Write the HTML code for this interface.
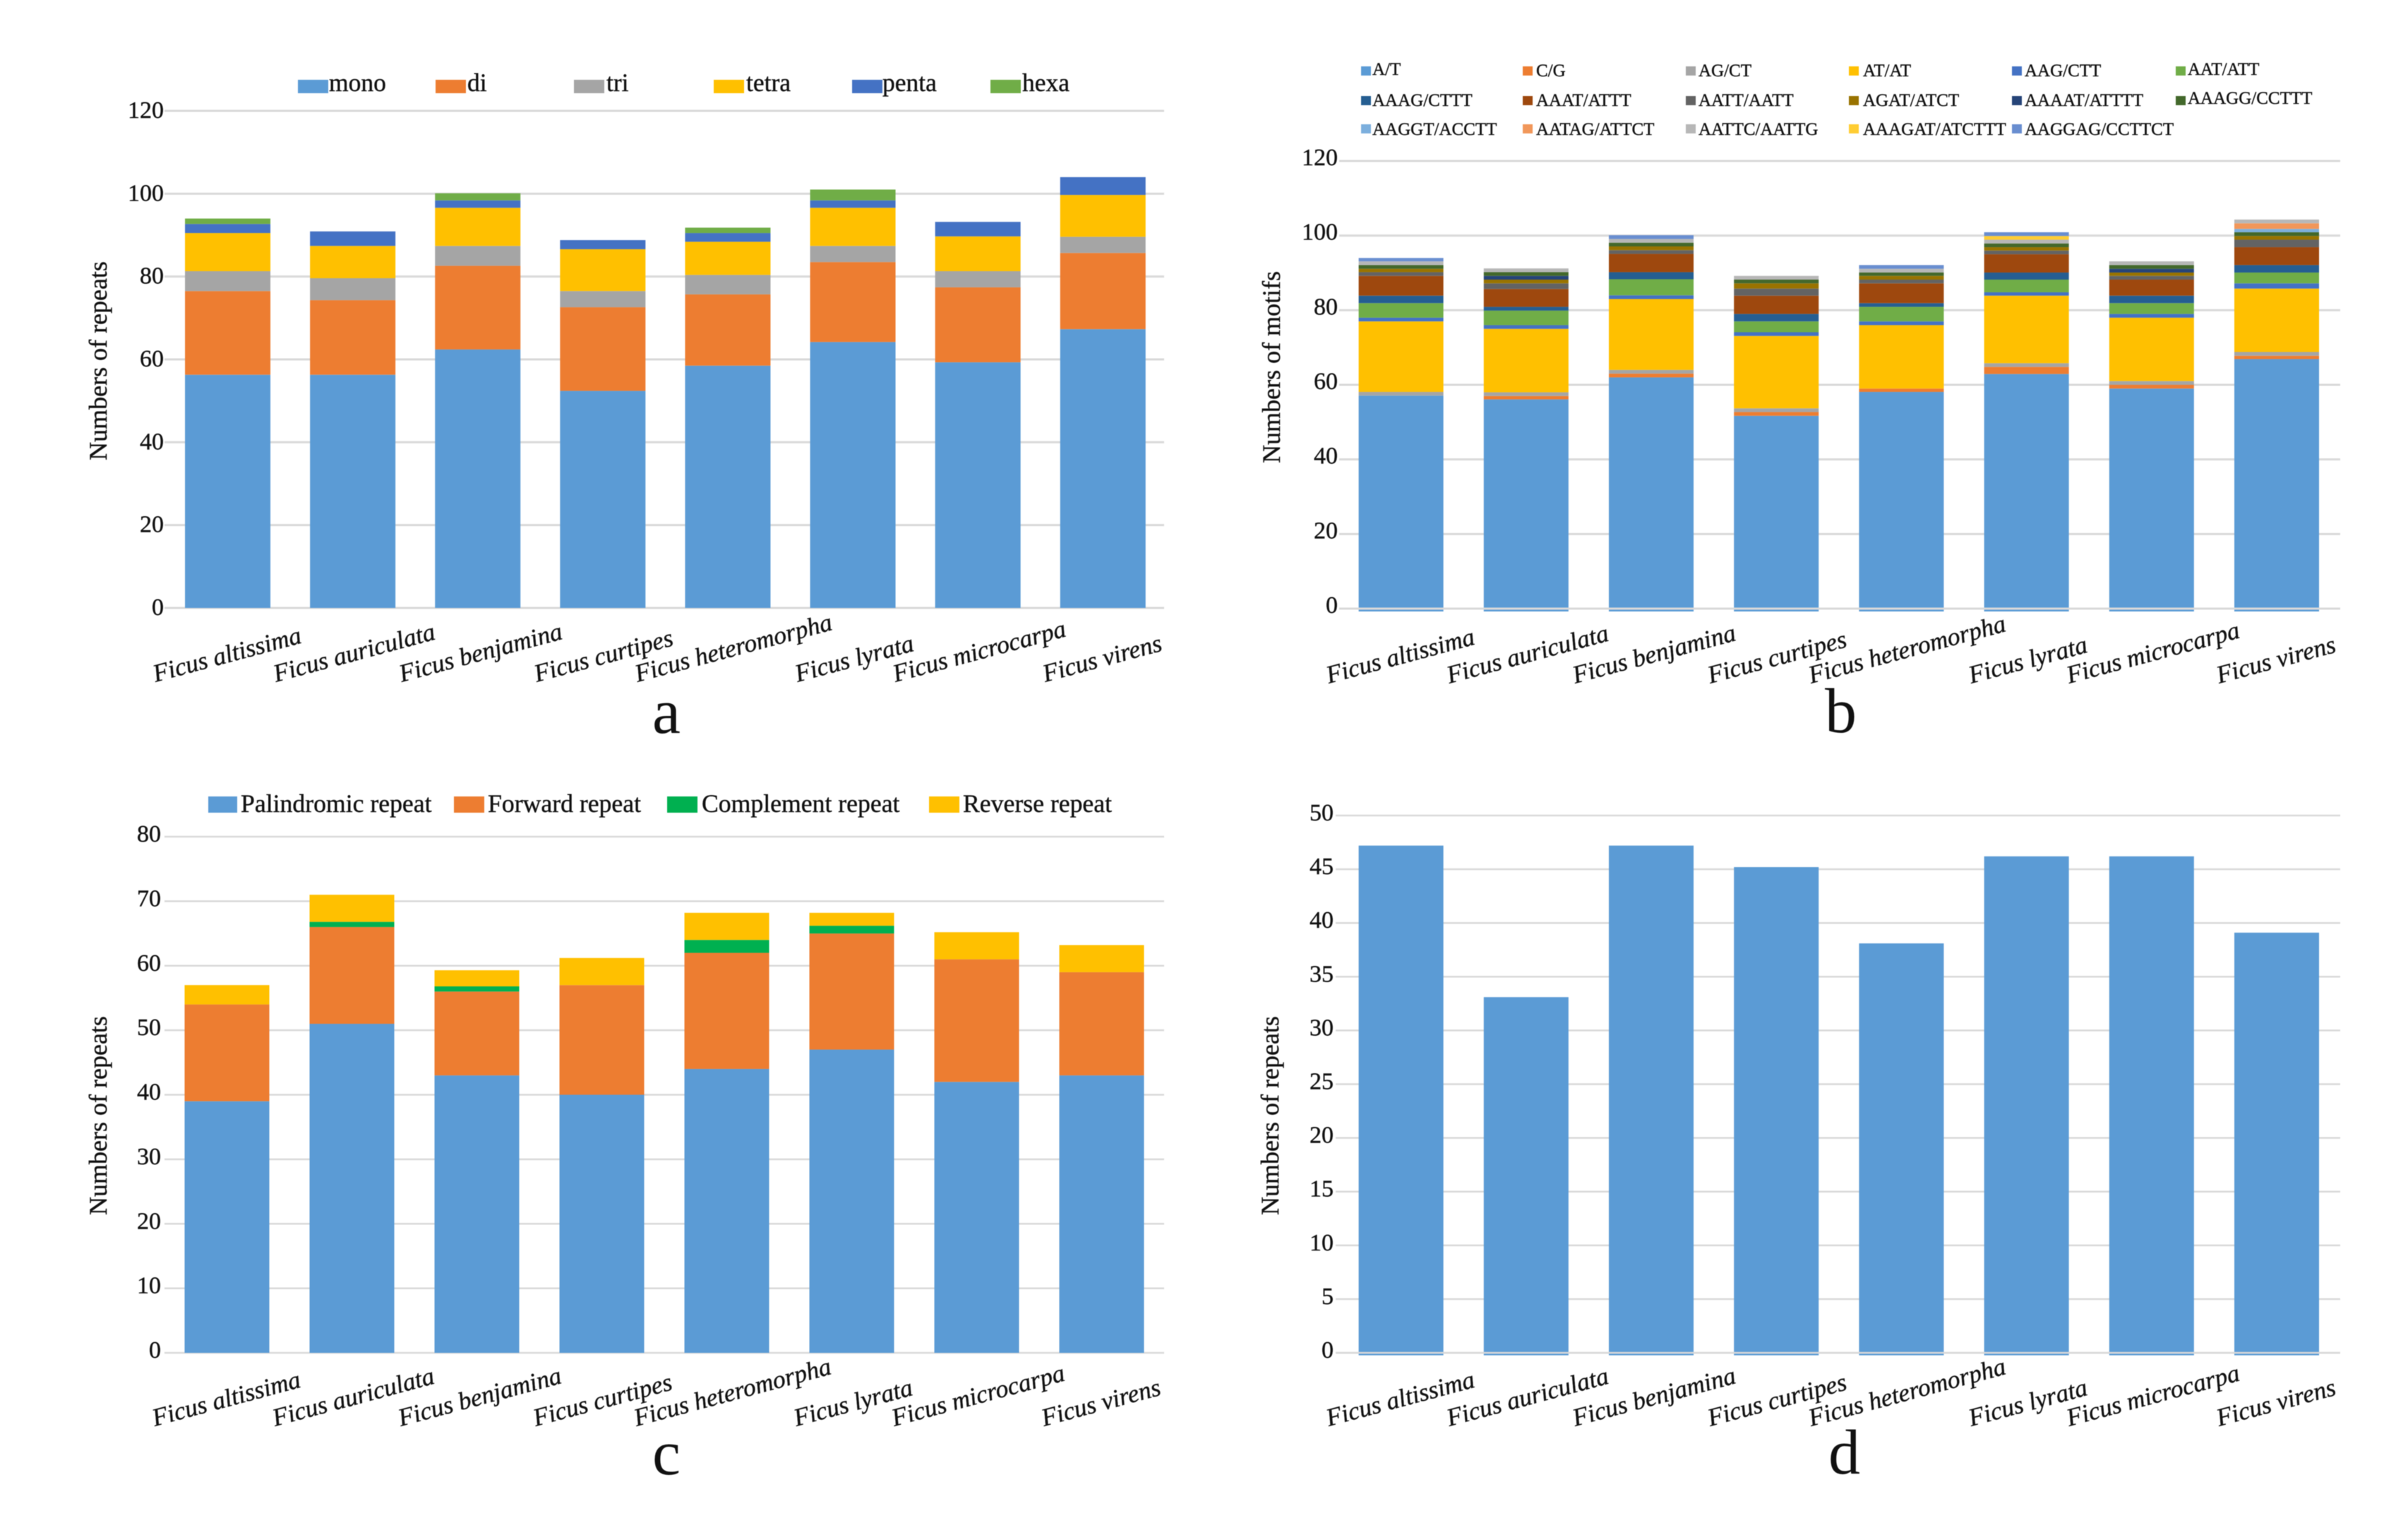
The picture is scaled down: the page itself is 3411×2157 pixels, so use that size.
<!DOCTYPE html>
<html lang="en">
<head>
<meta charset="utf-8">
<title>Ficus repeat statistics</title>
<style>
html,body{margin:0;padding:0;background:#fff;}
svg{display:block;font-family:"Liberation Serif","Times New Roman",serif;filter:blur(0.6px);}
text{fill:#111;stroke:#111;stroke-width:0.4px;}
.lg-a{font-size:35.5px;}
.lg-b{font-size:25px;}
.lg-c{font-size:35.7px;}
.ytitle{font-size:36px;}
.tick{font-size:34px;}
.cat{font-size:35.5px;font-style:italic;}
.panel{font-size:90px;stroke-width:0;}
</style>
</head>
<body>
<svg id="figure" xmlns="http://www.w3.org/2000/svg" width="3411" height="2157" viewBox="0 0 3411 2157">
<rect x="0" y="0" width="3411" height="2157" fill="#fff"/>

<g id="panel-a"></g>
<g id="panel-b"></g>
<g id="panel-c"></g>
<g id="panel-d"></g>

<g>
<g><rect x="422" y="113" width="43" height="19" fill="#5B9BD5"/><text class="lg-a" x="466" y="129">mono</text></g>
<g><rect x="617" y="113" width="43" height="19" fill="#ED7D31"/><text class="lg-a" x="662" y="129">di</text></g>
<g><rect x="813" y="113" width="43" height="19" fill="#A5A5A5"/><text class="lg-a" x="859" y="129">tri</text></g>
<g><rect x="1011" y="113" width="43" height="19" fill="#FFC000"/><text class="lg-a" x="1057" y="129">tetra</text></g>
<g><rect x="1207" y="113" width="43" height="19" fill="#4472C4"/><text class="lg-a" x="1250" y="129">penta</text></g>
<g><rect x="1403" y="113" width="43" height="19" fill="#70AD47"/><text class="lg-a" x="1448" y="129">hexa</text></g>
</g>

<g>
<g><rect x="1928" y="94" width="14" height="13" fill="#5B9BD5"/><text class="lg-b" x="1944" y="106">A/T</text></g>
<g><rect x="2157" y="94" width="14" height="13" fill="#ED7D31"/><text class="lg-b" x="2176" y="108">C/G</text></g>
<g><rect x="2388" y="94" width="14" height="13" fill="#A5A5A5"/><text class="lg-b" x="2406" y="108">AG/CT</text></g>
<g><rect x="2619" y="94" width="14" height="13" fill="#FFC000"/><text class="lg-b" x="2639" y="108">AT/AT</text></g>
<g><rect x="2850" y="94" width="14" height="13" fill="#4472C4"/><text class="lg-b" x="2868" y="108">AAG/CTT</text></g>
<g><rect x="3082" y="94" width="14" height="13" fill="#70AD47"/><text class="lg-b" x="3099" y="106">AAT/ATT</text></g>

<g><rect x="1928" y="136" width="14" height="13" fill="#255E91"/><text class="lg-b" x="1944" y="150">AAAG/CTTT</text></g>
<g><rect x="2157" y="136" width="14" height="13" fill="#9E480E"/><text class="lg-b" x="2176" y="150">AAAT/ATTT</text></g>
<g><rect x="2388" y="136" width="14" height="13" fill="#636363"/><text class="lg-b" x="2406" y="150">AATT/AATT</text></g>
<g><rect x="2619" y="136" width="14" height="13" fill="#997300"/><text class="lg-b" x="2639" y="150">AGAT/ATCT</text></g>
<g><rect x="2850" y="136" width="14" height="13" fill="#264478"/><text class="lg-b" x="2868" y="150">AAAAT/ATTTT</text></g>
<g><rect x="3082" y="136" width="14" height="13" fill="#43682B"/><text class="lg-b" x="3099" y="147">AAAGG/CCTTT</text></g>

<g><rect x="1928" y="176" width="14" height="13" fill="#7CAFDD"/><text class="lg-b" x="1944" y="191">AAGGT/ACCTT</text></g>
<g><rect x="2157" y="176" width="14" height="13" fill="#F1975A"/><text class="lg-b" x="2176" y="191">AATAG/ATTCT</text></g>
<g><rect x="2388" y="176" width="14" height="13" fill="#B7B7B7"/><text class="lg-b" x="2406" y="191">AATTC/AATTG</text></g>
<g><rect x="2619" y="176" width="14" height="13" fill="#FFCD33"/><text class="lg-b" x="2639" y="191">AAAGAT/ATCTTT</text></g>
<g><rect x="2850" y="176" width="14" height="13" fill="#698ED0"/><text class="lg-b" x="2868" y="191">AAGGAG/CCTTCT</text></g>
</g>

<g>
<g><rect x="295" y="1128" width="41" height="23" fill="#5B9BD5"/><text class="lg-c" x="341" y="1150">Palindromic repeat</text></g>
<g><rect x="643" y="1128" width="43" height="23" fill="#ED7D31"/><text class="lg-c" x="691" y="1150">Forward repeat</text></g>
<g><rect x="945" y="1128" width="43" height="23" fill="#00B050"/><text class="lg-c" x="994" y="1150">Complement repeat</text></g>
<g><rect x="1316" y="1128" width="43" height="23" fill="#FFC000"/><text class="lg-c" x="1364" y="1150">Reverse repeat</text></g>
</g>

<text class="ytitle" transform="translate(151,511) rotate(-90)" text-anchor="middle">Numbers of repeats</text>
<text class="ytitle" transform="translate(1813,520) rotate(-90)" text-anchor="middle">Numbers of motifs</text>
<text class="ytitle" transform="translate(151,1580) rotate(-90)" text-anchor="middle">Numbers of repeats</text>
<text class="ytitle" transform="translate(1811,1580) rotate(-90)" text-anchor="middle">Numbers of repeats</text>

<text class="panel" x="924" y="1038">a</text>
<text class="panel" x="2585" y="1037">b</text>
<text class="panel" x="924" y="2088">c</text>
<text class="panel" x="2590" y="2087">d</text>
</svg>

<script>
/* ---------- shared categories ---------- */
const categories = ['Ficus altissima','Ficus auriculata','Ficus benjamina','Ficus curtipes','Ficus heteromorpha','Ficus lyrata','Ficus microcarpa','Ficus virens'];

/* ---------- panel a: repeat types ---------- */
const aTicks = [0,20,40,60,80,100,120];
const aMono  = [56.3,56.3,62.4,52.4,58.5,64.2,59.3,67.3];
const aDi    = [20.2,18,20.2,20.2,17.2,19.3,18.1,18.4];
const aTri   = [4.8,5.3,4.8,3.9,4.7,3.9,3.9,3.9];
const aTetra = [9.2,7.8,9.2,10.1,8,9.2,8.4,10.1];
const aPenta = [2.2,3.5,1.8,2.2,2.1,1.8,3.5,4.3];
const aHexa  = [1.3,0,1.7,0,1.3,2.6,0,0];

/* ---------- panel b: motifs ---------- */
const bTicks  = [0,20,40,60,80,100,120];
const bAT     = [57.1,56.1,62,51.7,58.1,62.9,59,66.9];
const bCG     = [0,0.9,1,1,0.9,1.9,1,0.9];
const bAG     = [1,1,1,1,0,1,1,1];
const bATAT   = [18.9,17,19,19.4,17,18.1,17,17];
const bAAG    = [1,1,1,1,1,0.9,1,1.4];
const bAAT    = [3.9,3.9,4.3,2.9,3.9,3.4,2.9,2.9];
const bAAAG   = [2,1,1.9,2,1,1.9,2,2];
const bAAAT   = [5.3,4.8,4.9,4.9,5.3,4.9,4.3,4.8];
const bAATT   = [1,1.5,1,1.9,1,1,1,2];
const bAGAT   = [0.9,1,1,1.4,1,0.9,0.9,1];
const bAAAAT  = [0,1,0,0,0,0,1,0];
const bAAAGG  = [1,1,1,1,0.9,1,1,1];
const bAAGGT  = [0,0,0,0,0,0,0,0.9];
const bAATAG  = [0,0,0,0,0,0,0,1.5];
const bAATTC  = [1,1,1,1,1,1,1,1];
const bAAAGAT = [0,0,0,0,0,1,0,0];
const bAAGGAG = [0.9,0,1,0,1,1,0,0];

/* ---------- panel c: long repeats ---------- */
const cTicks       = [0,10,20,30,40,50,60,70,80];
const cPalindromic = [39,51,43,40,44,47,42,43];
const cForward     = [15,15,13,17,18,18,19,16];
const cComplement  = [0,0.8,0.8,0,2,1.2,0,0];
const cReverse     = [3,4.2,2.5,4.2,4.2,2,4.2,4.2];

/* ---------- panel d: tandem repeats ---------- */
const dTicks   = [0,5,10,15,20,25,30,35,40,45,50];
const dRepeats = [47.2,33.1,47.2,45.2,38.1,46.2,46.2,39.1];

/* layout only: horizontal shift of each slanted category label */
const labelShift = [2,5,7,4,11,5,5,2];

const SVGNS = 'http://www.w3.org/2000/svg';

function drawChart(groupId, prefix, cfg, series) {
  const root = document.getElementById(groupId);
  const yScale = function (v) {
    return cfg.y0 - v * (cfg.y0 - cfg.yTop) / cfg.max;
  };
  const xCenter = function (i) {
    return cfg.bandLeft + (i + 0.5) * cfg.band;
  };

  cfg.ticks.forEach(function (t) {
    const line = document.createElementNS(SVGNS, 'rect');
    
    
    line.setAttribute('x', cfg.gridLeft);
    line.setAttribute('y', yScale(t) - cfg.gridW / 2);
    line.setAttribute('width', cfg.gridRight - cfg.gridLeft);
    line.setAttribute('height', cfg.gridW);
    line.setAttribute('fill', '#D9D9D9');
    root.appendChild(line);

    const label = document.createElementNS(SVGNS, 'text');
    
    
    label.setAttribute('class', 'tick');
    label.setAttribute('x', cfg.tickRight);
    label.setAttribute('y', yScale(t) + cfg.tickDy);
    label.setAttribute('text-anchor', 'end');
    label.textContent = String(t);
    root.appendChild(label);
  });

  categories.forEach(function (cat, i) {
    let cum = 0;
    series.forEach(function (s, k) {
      const v = s.values[i];
      if (!(v > 0)) { return; }
      const top = yScale(cum + v);
      let bottom = yScale(cum);
      if (k === 0) { bottom += cfg.baseExtra; }
      const seg = document.createElementNS(SVGNS, 'rect');
      
      
      seg.setAttribute('x', xCenter(i) - cfg.barW / 2);
      seg.setAttribute('y', top);
      seg.setAttribute('width', cfg.barW);
      seg.setAttribute('height', bottom - top);
      seg.setAttribute('fill', s.color);
      root.appendChild(seg);
      cum += v;
    });
  });

  if (cfg.baseExtra > 0) {
    const zero = document.createElementNS(SVGNS, 'rect');
    
    
    zero.setAttribute('x', cfg.gridLeft);
    zero.setAttribute('y', yScale(0) - cfg.gridW / 2);
    zero.setAttribute('width', cfg.gridRight - cfg.gridLeft);
    zero.setAttribute('height', cfg.gridW);
    zero.setAttribute('fill', '#D9D9D9');
    root.appendChild(zero);
  }

  const angle = 15;
  const rad = angle * Math.PI / 180;
  categories.forEach(function (cat, i) {
    const t = document.createElementNS(SVGNS, 'text');
    
    
    t.setAttribute('class', 'cat');
    t.textContent = cat;
    root.appendChild(t);
    const len = t.getComputedTextLength();
    const sx = xCenter(i) - len / 2 * Math.cos(rad) + labelShift[i];
    t.setAttribute('x', sx);
    t.setAttribute('y', cfg.labelBottom);
    t.setAttribute('transform', 'rotate(' + (-angle) + ' ' + sx + ' ' + cfg.labelBottom + ')');
  });
}

drawChart('panel-a', 'a', {
  ticks: aTicks, max: 120, y0: 861, yTop: 157,
  bandLeft: 234, band: 177.1, barW: 121,
  gridLeft: 233, gridRight: 1649, gridW: 3,
  tickRight: 232, tickDy: 10, baseExtra: 0, labelBottom: 966
}, [
  {name: 'mono',  values: aMono,  color: '#5B9BD5'},
  {name: 'di',    values: aDi,    color: '#ED7D31'},
  {name: 'tri',   values: aTri,   color: '#A5A5A5'},
  {name: 'tetra', values: aTetra, color: '#FFC000'},
  {name: 'penta', values: aPenta, color: '#4472C4'},
  {name: 'hexa',  values: aHexa,  color: '#70AD47'}
]);

drawChart('panel-b', 'b', {
  ticks: bTicks, max: 120, y0: 862, yTop: 228,
  bandLeft: 1896, band: 177.2, barW: 120,
  gridLeft: 1897, gridRight: 3315, gridW: 3,
  tickRight: 1895, tickDy: 6, baseExtra: 4, labelBottom: 968
}, [
  {name: 'at',     values: bAT,     color: '#5B9BD5'},
  {name: 'cg',     values: bCG,     color: '#ED7D31'},
  {name: 'ag',     values: bAG,     color: '#A5A5A5'},
  {name: 'atat',   values: bATAT,   color: '#FFC000'},
  {name: 'aag',    values: bAAG,    color: '#4472C4'},
  {name: 'aat',    values: bAAT,    color: '#70AD47'},
  {name: 'aaag',   values: bAAAG,   color: '#255E91'},
  {name: 'aaat',   values: bAAAT,   color: '#9E480E'},
  {name: 'aatt',   values: bAATT,   color: '#636363'},
  {name: 'agat',   values: bAGAT,   color: '#997300'},
  {name: 'aaaat',  values: bAAAAT,  color: '#264478'},
  {name: 'aaagg',  values: bAAAGG,  color: '#43682B'},
  {name: 'aaggt',  values: bAAGGT,  color: '#7CAFDD'},
  {name: 'aatag',  values: bAATAG,  color: '#F1975A'},
  {name: 'aattc',  values: bAATTC,  color: '#B7B7B7'},
  {name: 'aaagat', values: bAAAGAT, color: '#FFCD33'},
  {name: 'aaggag', values: bAAGGAG, color: '#698ED0'}
]);

drawChart('panel-c', 'c', {
  ticks: cTicks, max: 80, y0: 1916, yTop: 1185,
  bandLeft: 233, band: 177, barW: 120,
  gridLeft: 233, gridRight: 1649, gridW: 2.5,
  tickRight: 228, tickDy: 7, baseExtra: 0, labelBottom: 2020
}, [
  {name: 'palindromic', values: cPalindromic, color: '#5B9BD5'},
  {name: 'forward',     values: cForward,     color: '#ED7D31'},
  {name: 'complement',  values: cComplement,  color: '#00B050'},
  {name: 'reverse',     values: cReverse,     color: '#FFC000'}
]);

drawChart('panel-d', 'd', {
  ticks: dTicks, max: 50, y0: 1916, yTop: 1155,
  bandLeft: 1896, band: 177.2, barW: 120,
  gridLeft: 1892, gridRight: 3315, gridW: 2.5,
  tickRight: 1889, tickDy: 7, baseExtra: 3.5, labelBottom: 2020
}, [
  {name: 'repeats', values: dRepeats, color: '#5B9BD5'}
]);
</script>
</body>
</html>
